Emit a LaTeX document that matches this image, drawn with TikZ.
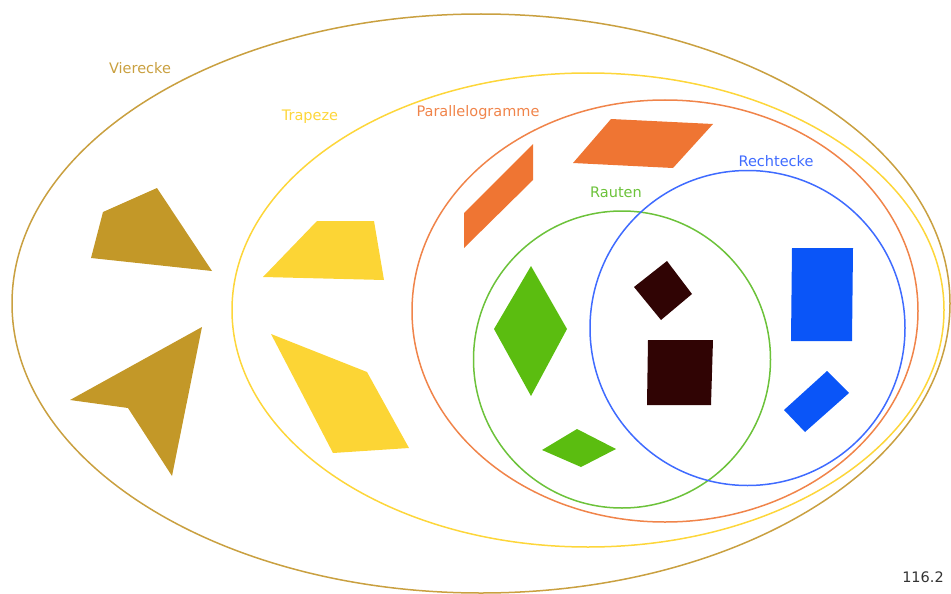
\documentclass[tikz,border=0pt]{standalone}
\usepackage{fontspec}
\setmainfont{DejaVu Sans}
\definecolor{vbrown}{HTML}{C39828}
\definecolor{vline}{HTML}{C9A040}
\definecolor{tyellow}{HTML}{FCD535}
\definecolor{tline}{HTML}{FDD63A}
\definecolor{porange}{HTML}{EF7533}
\definecolor{pline}{HTML}{F0844A}
\definecolor{rgreen}{HTML}{5BBD10}
\definecolor{rline}{HTML}{6CC23A}
\definecolor{qdark}{HTML}{300404}
\definecolor{bblue}{HTML}{0A55F8}
\definecolor{bline}{HTML}{3F6BFF}
\tikzset{
  setline/.style={line width=1.5pt},
  setlabel/.style={font=\fontsize{14.5}{17}\selectfont, inner sep=0pt},
}
\begin{document}
\begin{tikzpicture}[x=1pt,y=-1pt]
\useasboundingbox (0,0) rectangle (951,594);
% set outlines
\draw[setline, vline] (481,303.5) ellipse [x radius=469, y radius=289.5];
\draw[setline, tline] (588,310) ellipse [x radius=356, y radius=237];
\draw[setline, pline] (665,311) ellipse [x radius=253, y radius=211];
\draw[setline, rline] (622,359.5) circle [radius=148.5];
\draw[setline, bline] (747.5,328) circle [radius=157.5];
% labels
\node[setlabel, text=vline] (lv) at (140,68) {Vierecke};
\node[setlabel, text=tline] (lt) at (310,117) {Trapeze};
\node[setlabel, text=pline] (lp) at (478,112) {Parallelogramme};
\node[setlabel, text=rline] (lr) at (616,192) {Rauten};
\node[setlabel, text=bline] (lb) at (776,161) {Rechtecke};
\node[setlabel, text=black!80] (num) at (923,577) {116.2};
% Vierecke
\fill[vbrown] (103,212) -- (157,188) -- (212,271) -- (91,258) -- cycle;
\fill[vbrown] (202,327) -- (70,400) -- (128,408) -- (172,476) -- cycle;
% Trapeze
\fill[tyellow] (317,221) -- (374,221) -- (384,280) -- (263,277) -- cycle;
\fill[tyellow] (271,334) -- (367,372) -- (409,448) -- (333,453) -- cycle;
% Parallelogramme
\fill[porange] (533,144) -- (533,180) -- (464,248) -- (464,213) -- cycle;
\fill[porange] (611,119) -- (713,124) -- (673,168) -- (573,163) -- cycle;
% Rauten
\fill[rgreen] (531,266) -- (567,329) -- (531,396) -- (494,329) -- cycle;
\fill[rgreen] (577,429) -- (616,449) -- (581,467) -- (542,450) -- cycle;
% Quadrate
\fill[qdark] (667,261) -- (692,294) -- (661,320) -- (634,287) -- cycle;
\fill[qdark] (648,340) -- (713,340) -- (711,405) -- (647,405) -- cycle;
% Rechtecke
\fill[bblue] (792,248) -- (853,248) -- (852,341) -- (791,341) -- cycle;
\fill[bblue] (827,371) -- (849,393) -- (805,432) -- (784,410) -- cycle;
\end{tikzpicture}
\end{document}
